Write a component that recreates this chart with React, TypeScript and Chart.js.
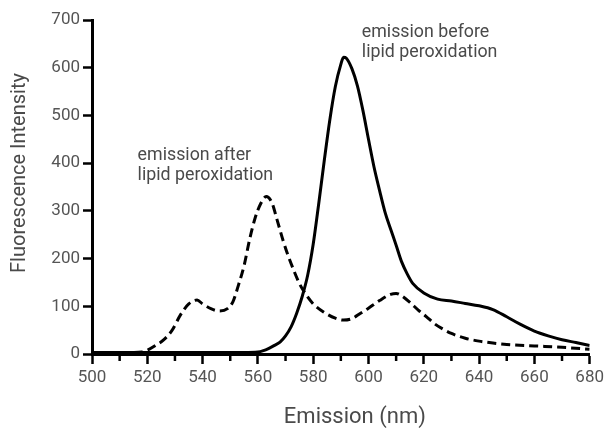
import React, { useEffect, useRef } from "react";
import { Chart, registerables } from "chart.js";

Chart.register(...registerables);

// Emission wavelength (nm) and fluorescence intensity – before lipid peroxidation (solid)
const beforeX = [500, 505, 510, 515, 520, 525, 530, 535, 540, 545, 550, 555, 560, 562, 564, 566, 568, 570, 572, 574, 576, 578, 580, 582, 584, 586, 588, 590, 591, 592, 594, 596, 598, 600, 602, 604, 606, 608, 610, 612, 614, 616, 620, 625, 630, 635, 640, 645, 650, 655, 660, 665, 670, 675, 680];
const beforeY = [3, 3, 3, 3, 3, 3, 3, 3, 3, 3, 3, 3, 4, 7, 12, 18, 25, 38, 57, 85, 120, 165, 230, 315, 405, 490, 560, 607, 622, 620, 598, 562, 510, 450, 392, 343, 297, 262, 228, 193, 168, 148, 128, 115, 111, 106, 101, 93, 78, 62, 48, 38, 30, 24, 18];

// After lipid peroxidation (dashed)
const afterX = [500, 505, 510, 515, 518, 520, 523, 526, 529, 532, 535, 538, 540, 543, 546, 549, 551, 553, 555, 557, 559, 561, 563, 565, 567, 569, 571, 573, 575, 577, 580, 584, 588, 591, 594, 597, 600, 604, 608, 610, 612, 615, 618, 621, 624, 627, 630, 635, 640, 645, 650, 660, 670, 680];
const afterY = [3, 3, 3, 3, 4, 8, 18, 30, 50, 82, 105, 113, 105, 95, 90, 95, 110, 145, 185, 240, 285, 315, 330, 318, 280, 240, 205, 175, 148, 128, 105, 87, 75, 71, 74, 85, 96, 112, 125, 127, 122, 108, 92, 78, 63, 52, 43, 33, 27, 23, 20, 17, 14, 10];

const X_MIN = 500;
const X_MAX = 680;
const Y_MIN = 0;
const Y_MAX = 700;
const X_MAJOR_STEP = 20;
const X_MINOR_STEP = 10;
const Y_STEP = 100;

const X_TITLE = "Emission (nm)";
const Y_TITLE = "Fluorescence Intensity";

// Annotation texts with their anchor (data coordinates, left/baseline)
const afterLabelLines = ["emission after", "lipid peroxidation"];
const afterLabelAt = { x: 516.5, y: [406, 364] };
const beforeLabelLines = ["emission before", "lipid peroxidation"];
const beforeLabelAt = { x: 597.6, y: [664, 622] };

const FONT = "Roboto, 'Noto Sans', sans-serif";
const TEXT = "#4a4a4a";

const toPoints = (xs: number[], ys: number[]) => xs.map((x, i) => ({ x, y: ys[i] }));

const overlayPlugin = {
  id: "overlay",
  afterDraw(chart: any) {
    const { ctx, chartArea } = chart;
    const xs = chart.scales.x;
    const ys = chart.scales.y;
    ctx.save();
    // minor x ticks
    ctx.strokeStyle = "#000";
    ctx.lineWidth = 2.5;
    for (let v = X_MIN; v <= X_MAX; v += X_MINOR_STEP) {
      if ((v - X_MIN) % X_MAJOR_STEP === 0) continue;
      const px = xs.getPixelForValue(v);
      ctx.beginPath();
      ctx.moveTo(px, chartArea.bottom);
      ctx.lineTo(px, chartArea.bottom + 7);
      ctx.stroke();
    }
    // annotations
    ctx.fillStyle = TEXT;
    ctx.font = `17.8px ${FONT}`;
    ctx.textAlign = "left";
    ctx.textBaseline = "alphabetic";
    afterLabelLines.forEach((t, i) => {
      ctx.fillText(t, xs.getPixelForValue(afterLabelAt.x), ys.getPixelForValue(afterLabelAt.y[i]));
    });
    beforeLabelLines.forEach((t, i) => {
      ctx.fillText(t, xs.getPixelForValue(beforeLabelAt.x), ys.getPixelForValue(beforeLabelAt.y[i]));
    });
    // axis titles
    ctx.textAlign = "center";
    ctx.textBaseline = "middle";
    ctx.font = `22px ${FONT}`;
    ctx.fillText(X_TITLE, chartArea.left + (chartArea.right - chartArea.left) / 2 + 14, chart.height - 12);
    ctx.font = `20px ${FONT}`;
    ctx.translate(20, chartArea.top + (chartArea.bottom - chartArea.top) / 2 - 14);
    ctx.rotate(-Math.PI / 2);
    ctx.fillText(Y_TITLE, 0, 0);
    ctx.restore();
  },
};

export default function App() {
  const ref = useRef<HTMLCanvasElement | null>(null);
  useEffect(() => {
    if (!ref.current) return;
    const chart = new Chart(ref.current, {
      type: "line",
      data: {
        datasets: [
          {
            label: "before",
            data: toPoints(beforeX, beforeY),
            borderColor: "#000",
            borderWidth: 3,
            pointRadius: 0,
            cubicInterpolationMode: "monotone",
            fill: false,
          },
          {
            label: "after",
            data: toPoints(afterX, afterY),
            borderColor: "#000",
            borderWidth: 3,
            borderDash: [9, 5],
            pointRadius: 0,
            cubicInterpolationMode: "monotone",
            fill: false,
          },
        ],
      },
      options: {
        responsive: false,
        animation: false,
        devicePixelRatio: 1,
        layout: { padding: { left: 0, top: 20, right: 16, bottom: 0 } },
        plugins: { legend: { display: false }, tooltip: { enabled: false } },
        scales: {
          x: {
            type: "linear",
            min: X_MIN,
            max: X_MAX,
            border: { display: true, color: "#000", width: 3 },
            grid: {
              drawOnChartArea: false,
              drawTicks: true,
              tickLength: 10,
              tickWidth: 2.5,
              tickColor: (c: any) => ((c.tick && (c.tick.value - X_MIN) % X_MAJOR_STEP === 0) ? "#000" : "rgba(0,0,0,0)"),
            },
            ticks: {
              stepSize: X_MINOR_STEP,
              autoSkip: false,
              maxRotation: 0,
              padding: 4,
              color: "#555",
              font: { family: FONT, size: 17 },
              callback: (v: any) => ((Number(v) - X_MIN) % X_MAJOR_STEP === 0 ? String(v) : ""),
            },
            afterFit: (s: any) => { s.height = 75; },
          },
          y: {
            min: Y_MIN,
            max: Y_MAX,
            border: { display: true, color: "#000", width: 3 },
            grid: {
              drawOnChartArea: false,
              drawTicks: true,
              tickLength: 9,
              tickWidth: 2.5,
              tickColor: "#000",
            },
            ticks: {
              stepSize: Y_STEP,
              padding: 3,
              color: "#555",
              font: { family: FONT, size: 17 },
            },
            afterFit: (s: any) => { s.width = 92; },
          },
        },
      },
      plugins: [overlayPlugin],
    });
    return () => chart.destroy();
  }, []);
  return (
    <div style={{ position: "absolute", left: 0, top: 0, width: 608, height: 429, background: "#fff" }}>
      <canvas ref={ref} width={608} height={429} />
    </div>
  );
}
